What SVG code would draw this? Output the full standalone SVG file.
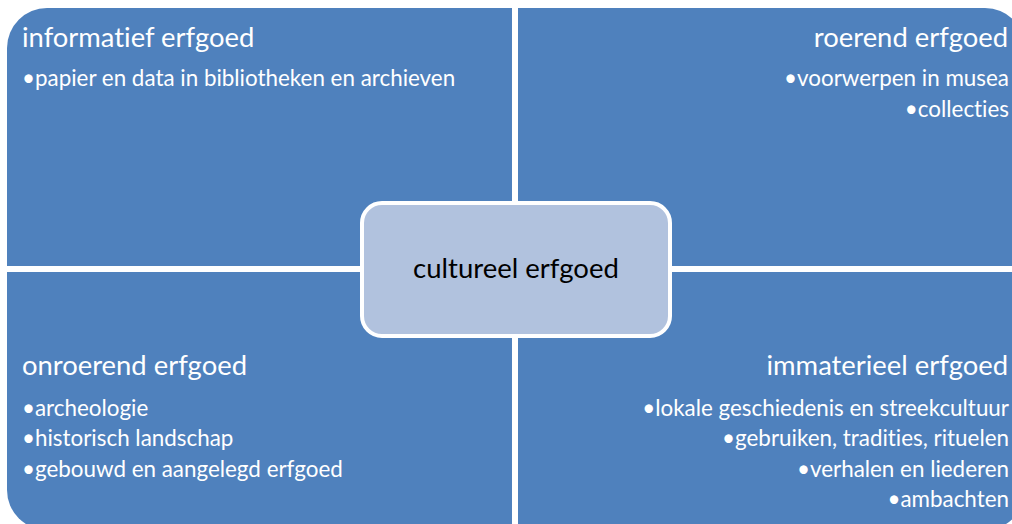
<svg xmlns="http://www.w3.org/2000/svg" width="1012" height="524" viewBox="0 0 1012 524">
<style>
.q{fill:#4f81bd;}
.t{font-family:Lato,"Open Sans",sans-serif;fill:#ffffff;font-variant-ligatures:none;}
.h{font-size:27.4px;}
.b{font-size:22.4px;}
.r{text-anchor:end;}
.c{font-family:Lato,"Open Sans",sans-serif;font-size:27.5px;fill:#000000;text-anchor:middle;font-variant-ligatures:none;}
</style>
<rect width="1012" height="524" fill="#ffffff"/>
<g id="informatief">
<path class="q" d="M7,48 A40,40 0 0 1 47,8 H512 V266 H7 Z"/>
<text class="t h" x="22" y="47">informatief erfgoed</text>
<text class="t b" x="22" y="86">•papier en data in bibliotheken en archieven</text>
</g>
<g id="roerend">
<path class="q" d="M518,8 H985 A40,40 0 0 1 1025,48 V266 H518 Z"/>
<text class="t h r" x="1008" y="47">roerend erfgoed</text>
<text class="t b r" x="1009" y="86">•voorwerpen in musea</text>
<text class="t b r" x="1009" y="117">•collecties</text>
</g>
<g id="onroerend">
<path class="q" d="M7,272 H512 V530 H47 A40,40 0 0 1 7,490 Z"/>
<text class="t h" x="22" y="375">onroerend erfgoed</text>
<text class="t b" x="22" y="416">•archeologie</text>
<text class="t b" x="22" y="446">•historisch landschap</text>
<text class="t b" x="22" y="477">•gebouwd en aangelegd erfgoed</text>
</g>
<g id="immaterieel">
<path class="q" d="M518,272 H1025 V490 A40,40 0 0 1 985,530 H518 Z"/>
<text class="t h r" x="1008" y="375">immaterieel erfgoed</text>
<text class="t b r" x="1009" y="416">•lokale geschiedenis en streekcultuur</text>
<text class="t b r" x="1009" y="446">•gebruiken, tradities, rituelen</text>
<text class="t b r" x="1009" y="477">•verhalen en liederen</text>
<text class="t b r" x="1009" y="507">•ambachten</text>
</g>
<g id="connectors"></g>
<g id="center">
<rect x="362" y="203" width="308" height="133" rx="20" fill="#b1c2de" stroke="#ffffff" stroke-width="4"/>
<text class="c" x="516" y="278">cultureel erfgoed</text>
</g>
</svg>
